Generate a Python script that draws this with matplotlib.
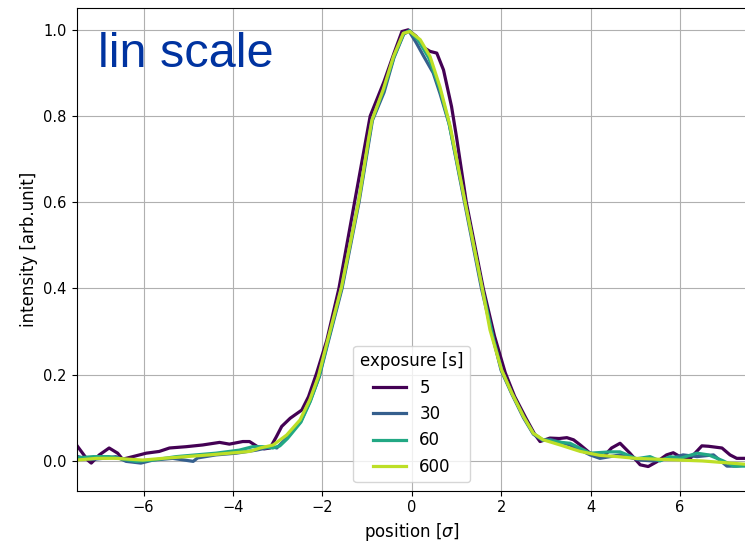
import matplotlib
matplotlib.use("Agg")
import matplotlib.pyplot as plt
import numpy as np

# exposure times [s] and traced profiles (position in sigma, normalised intensity)
exposures = [5, 30, 60, 600]

x_5 = [-7.5, -7.25, -7.17, -6.99, -6.77, -6.58, -6.47, -6.24, -5.94, -5.65, -5.42,
       -5.05, -4.68, -4.30, -4.08, -3.78, -3.63, -3.45, -3.30, -3.17, -3.03, -2.91,
       -2.72, -2.46, -2.31, -2.13, -1.90, -1.63, -1.28, -0.93, -0.62, -0.40, -0.22,
       -0.08, 0.10, 0.25, 0.41, 0.56, 0.71, 0.89, 1.00, 1.22, 1.60, 1.85, 2.09,
       2.30, 2.55, 2.75, 2.87, 3.09, 3.30, 3.47, 3.62, 3.77, 3.99, 4.29, 4.47,
       4.66, 4.88, 5.11, 5.29, 5.48, 5.70, 5.85, 6.00, 6.23, 6.49, 6.64, 6.94,
       7.12, 7.27, 7.5]
y_5 = [0.037, 0.002, -0.005, 0.014, 0.030, 0.018, 0.004, 0.010, 0.018, 0.022, 0.030,
       0.033, 0.037, 0.043, 0.039, 0.045, 0.045, 0.033, 0.028, 0.030, 0.056, 0.080,
       0.099, 0.118, 0.149, 0.203, 0.280, 0.400, 0.600, 0.800, 0.880, 0.945, 0.996,
       1.000, 0.985, 0.960, 0.950, 0.946, 0.907, 0.822, 0.752, 0.600, 0.400, 0.290, 0.205,
       0.150, 0.100, 0.062, 0.045, 0.053, 0.052, 0.054, 0.049, 0.037, 0.018, 0.010, 0.030,
       0.041, 0.018, -0.009, -0.013, -0.002, 0.014, 0.019, 0.010, 0.006, 0.035, 0.034, 0.030,
       0.014, 0.006, 0.006]

x_30 = [-7.5, -7.2, -6.91, -6.62, -6.39, -6.06, -5.79, -5.35, -4.89, -4.79, -4.38,
        -3.93, -3.48, -3.11, -3.02, -2.78, -2.48, -2.27, -2.07, -1.88, -1.56, -1.18,
        -0.88, -0.62, -0.40, -0.18, -0.06, 0.10, 0.26, 0.48, 0.63, 0.84, 1.18, 1.56,
        1.83, 2.00, 2.24, 2.50, 2.72, 2.92, 3.09, 3.30, 3.54, 3.99, 4.21, 4.66, 5.11,
        5.41, 5.78, 6.07, 6.38, 6.75, 7.05, 7.27, 7.5]
y_30 = [0.011, 0.003, 0.006, 0.010, -0.001, -0.005, 0.002, 0.006, -0.001, 0.007, 0.014,
        0.018, 0.025, 0.033, 0.030, 0.055, 0.092, 0.140, 0.195, 0.272, 0.400, 0.600,
        0.790, 0.855, 0.935, 0.990, 0.997, 0.970, 0.940, 0.900, 0.853, 0.780, 0.600, 0.400,
        0.280, 0.210, 0.155, 0.100, 0.062, 0.048, 0.050, 0.044, 0.037, 0.014, 0.006, 0.014,
        0.002, 0.000, 0.006, 0.014, 0.010, 0.014, -0.012, -0.012, -0.009]

x_60 = [-7.5, -7.12, -6.77, -6.39, -6.17, -5.79, -5.27, -4.83, -4.38, -3.86, -3.56,
        -3.33, -3.11, -2.95, -2.78, -2.48, -2.27, -2.08, -1.89, -1.57, -1.19, -0.89,
        -0.63, -0.40, -0.18, -0.05, 0.15, 0.38, 0.62, 0.83, 1.19, 1.57, 1.83, 2.01,
        2.24, 2.50, 2.72, 2.93, 3.15, 3.35, 3.54, 3.99, 4.44, 4.66, 5.03, 5.33, 5.55,
        5.78, 6.00, 6.38, 6.64, 6.97, 7.20, 7.5]
y_60 = [0.007, 0.010, 0.010, 0.003, -0.001, 0.002, 0.010, 0.014, 0.018, 0.025, 0.033,
        0.033, 0.030, 0.035, 0.052, 0.090, 0.138, 0.193, 0.272, 0.402, 0.602, 0.790,
        0.860, 0.937, 0.992, 0.998, 0.975, 0.935, 0.865, 0.785, 0.602, 0.404, 0.281, 0.211,
        0.157, 0.103, 0.064, 0.049, 0.046, 0.043, 0.041, 0.018, 0.021, 0.021, 0.005, 0.010,
        0.000, 0.010, 0.006, 0.018, 0.014, 0.000, -0.012, -0.012]

x_600 = [-7.5, -7.05, -6.62, -6.02, -5.57, -5.05, -4.53, -4.08, -3.63, -3.39, -3.10,
         -2.80, -2.50, -2.28, -2.09, -1.90, -1.57, -1.19, -0.97, -0.89, -0.64, -0.41,
         -0.19, -0.04, 0.19, 0.41, 0.63, 0.86, 1.19, 1.57, 1.75, 2.01, 2.24, 2.50,
         2.72, 2.94, 3.32, 3.77, 4.20, 4.60, 5.00, 5.50, 6.00, 6.50, 7.00, 7.5]
y_600 = [0.002, 0.006, 0.006, 0.002, 0.006, 0.010, 0.014, 0.018, 0.022, 0.030, 0.037,
         0.060, 0.095, 0.142, 0.196, 0.273, 0.404, 0.602, 0.745, 0.791, 0.861, 0.938,
         0.992, 0.996, 0.977, 0.938, 0.868, 0.776, 0.602, 0.404, 0.304, 0.211, 0.157, 0.103,
         0.064, 0.049, 0.037, 0.022, 0.013, 0.010, 0.006, 0.004, 0.002, 0.000, -0.004, -0.008]

profiles = [(x_5, y_5), (x_30, y_30), (x_60, y_60), (x_600, y_600)]

fig = plt.figure(figsize=(7.45, 5.48), dpi=100)
ax = fig.add_axes([0.1027, 0.1046, 0.9, 0.8803])

colors = plt.cm.viridis(np.linspace(0, 0.9, len(exposures)))
for (xs, ys), exp, c in zip(profiles, exposures, colors):
    ax.plot(xs, ys, color=c, linewidth=2.3, label=str(exp))

ax.set_xlim(-7.5, 7.5)
ax.set_ylim(-0.069, 1.05)
ax.set_xticks([-6, -4, -2, 0, 2, 4, 6])
ax.set_yticks([0.0, 0.2, 0.4, 0.6, 0.8, 1.0])
ax.tick_params(labelsize=10.5)
ax.grid(True)
ax.set_xlabel(r"position [$\sigma$]", fontsize=12)
ax.set_ylabel("intensity [arb.unit]", fontsize=12)

ax.text(0.032, 0.878, "lin scale", transform=ax.transAxes, fontsize=35,
        family="Liberation Sans", color="#0033a0", va="baseline", ha="left")

ax.legend(title="exposure [s]", loc="lower center", fontsize=12, title_fontsize=12)

fig.savefig("out.png", dpi=100)
